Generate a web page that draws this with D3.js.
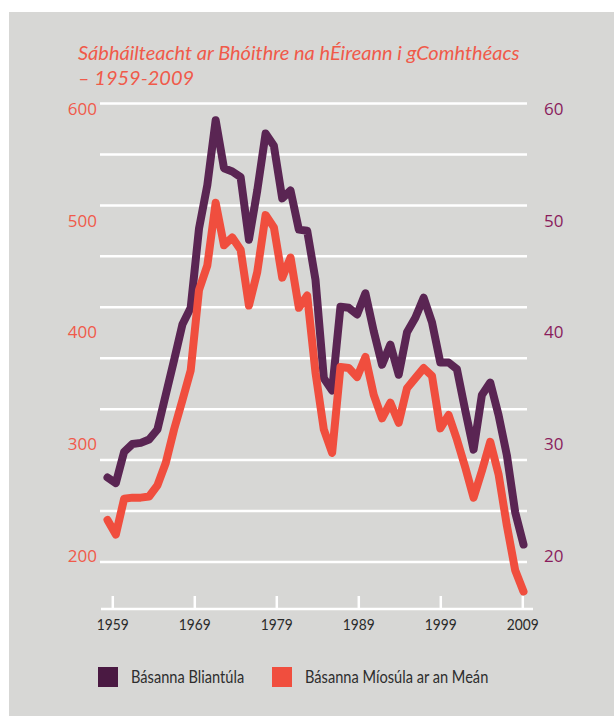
<!DOCTYPE html>
<html>
<head>
<meta charset="utf-8">
<script src="https://cdn.jsdelivr.net/npm/d3@7"></script>
<style>
  body { margin: 0; background: #fff; }
</style>
</head>
<body>
<div id="root"></div>
<script>
//DATA
const years = [1959,1960,1961,1962,1963,1964,1965,1966,1967,1968,
  1969,1970,1971,1972,1973,1974,1975,1976,1977,1978,
  1979,1980,1981,1982,1983,1984,1985,1986,1987,1988,
  1989,1990,1991,1992,1993,1994,1995,1996,1997,1998,
  1999,2000,2001,2002,2003,2004,2005,2006,2007,2008,2009];

// Básanna Bliantúla (left scale)
const annualDeaths = [270,265,293,300,301,304,313,344,375,407,
  422,493,532,590,547,544,539,483,527,578,
  567,520,527,492,491,447,359,348,423,422,
  416,435,401,371,389,362,400,413,431,409,
  373,373,367,330,295,344,355,326,290,239,210];

// Básanna Míosúla ar an Meán (right scale)
const monthlyDeaths = [23.2,21.9,25.1,25.2,25.2,25.3,26.3,28.3,31.3,33.9,
  36.6,43.8,46.0,51.6,47.8,48.5,47.4,42.4,45.4,50.5,
  49.4,44.9,46.7,42.2,43.3,36.4,31.3,29.2,36.9,36.8,
  36.0,37.8,34.4,32.3,33.7,31.9,35.0,35.9,36.8,36.1,
  31.4,32.6,30.4,27.9,25.2,27.6,30.2,27.3,22.7,18.7,16.8];

const xTicks = [1959,1969,1979,1989,1999,2009];
const leftTicks = [200,300,400,500,600];
const rightTicks = [20,30,40,50,60];
const seriesNames = ["Básanna Bliantúla", "Básanna Míosúla ar an Meán"];
const titleLines = ["Sábháilteacht ar Bhóithre na hÉireann i gComhthéacs", "– 1959-2009"];

//DIMENSIONS
const width = 614, height = 716;
const purple = "#5a2553", red = "#f04e3e";
const narrow = 0.86; // squeeze text to look like a condensed face

//CREATE SVG
const svg = d3.select('#root')
  .append('svg')
  .attr('width', width)
  .attr('height', height);

// gray panel
svg.append('rect')
  .attr('x', 9).attr('y', 12)
  .attr('width', width - 9).attr('height', height - 12)
  .attr('fill', '#d7d7d5');

//SCALES
const x = d3.scaleLinear().domain([1959, 2009]).range([107.5, 523.5]);
const xTick = d3.scaleLinear().domain([1959, 2009]).range([112.3, 522.3]);
const yLeft = d3.scaleLinear().domain([200, 600]).range([555.7, 109]);
const yRight = d3.scaleLinear().domain([20, 60]).range([555.7, 109]);
const gridY = d3.scaleLinear().domain([0, 9]).range([103.5, 562]);

//GRID LINES
svg.append('g')
  .selectAll('line')
  .data(d3.range(10))
  .join('line')
  .attr('x1', 100).attr('x2', 527)
  .attr('y1', d => gridY(d)).attr('y2', d => gridY(d))
  .attr('stroke', '#fff')
  .attr('stroke-width', 2.5);

//X AXIS
svg.append('line')
  .attr('x1', 101).attr('x2', 533)
  .attr('y1', 609).attr('y2', 609)
  .attr('stroke', '#fff').attr('stroke-width', 2.5);

const xAxis = svg.append('g')
  .attr('transform', 'translate(0,609)')
  .call(d3.axisBottom(xTick).tickValues(xTicks).tickFormat(d3.format('d')).tickSize(-13).tickPadding(10));
xAxis.select('.domain').remove();
xAxis.selectAll('.tick line').attr('stroke', '#fff').attr('stroke-width', 2.5);
xAxis.selectAll('.tick text')
  .attr('fill', '#2a2a2a')
  .attr('transform', `scale(${narrow},1)`)
  .style('font-family', 'Lato, sans-serif')
  .style('font-size', '16px');

//Y AXES
const yl = svg.append('g')
  .attr('transform', 'translate(97,0)')
  .call(d3.axisLeft(yLeft).tickValues(leftTicks).tickSize(0).tickPadding(0));
yl.select('.domain').remove();
yl.selectAll('text')
  .attr('fill', '#f05a4a')
  .style('font-family', '"Open Sans", sans-serif')
  .style('font-size', '17px');

const yr = svg.append('g')
  .attr('transform', 'translate(544,0)')
  .call(d3.axisRight(yRight).tickValues(rightTicks).tickSize(0).tickPadding(0));
yr.select('.domain').remove();
yr.selectAll('text')
  .attr('fill', '#8a1c5c')
  .style('font-family', '"Open Sans", sans-serif')
  .style('font-size', '17px');

//LINES
const annualLine = d3.line()
  .x((d, i) => x(years[i]))
  .y(d => yLeft(d));
const monthlyLine = d3.line()
  .x((d, i) => x(years[i]))
  .y(d => yRight(d));

svg.append('path')
  .datum(annualDeaths)
  .attr('fill', 'none')
  .attr('stroke', purple)
  .attr('stroke-width', 8)
  .attr('stroke-linejoin', 'round')
  .attr('stroke-linecap', 'round')
  .attr('d', annualLine);

svg.append('path')
  .datum(monthlyDeaths)
  .attr('fill', 'none')
  .attr('stroke', red)
  .attr('stroke-width', 8)
  .attr('stroke-linejoin', 'round')
  .attr('stroke-linecap', 'round')
  .attr('d', monthlyLine);

//TITLE
svg.append('g')
  .selectAll('text')
  .data(titleLines)
  .join('text')
  .attr('x', 78)
  .attr('y', (d, i) => 60 + i * 25)
  .attr('fill', '#f05a4a')
  .style('font-family', 'Lato, sans-serif')
  .style('font-style', 'italic')
  .style('font-size', '20px')
  .text(d => d);

//LEGEND
const legend = svg.append('g')
  .selectAll('g')
  .data(seriesNames)
  .join('g')
  .attr('transform', (d, i) => `translate(${[98, 272][i]},667)`);
legend.append('rect')
  .attr('width', 20).attr('height', 20)
  .attr('fill', (d, i) => [ '#4a1942', red ][i]);
legend.append('text')
  .attr('transform', `translate(33,16) scale(${narrow},1)`)
  .attr('fill', '#2e2e2e')
  .style('font-family', 'Lato, sans-serif')
  .style('font-size', '17px')
  .text(d => d);
</script>
</body>
</html>
